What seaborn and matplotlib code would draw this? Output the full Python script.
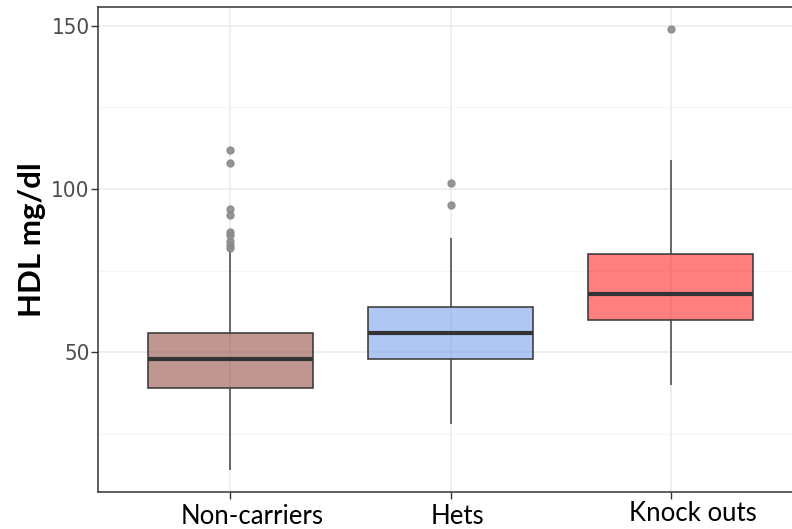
import matplotlib
matplotlib.use("Agg")
import matplotlib.pyplot as plt
import matplotlib.transforms as mtransforms
from matplotlib.colors import to_rgba
from matplotlib.ticker import MultipleLocator
from matplotlib import font_manager
import numpy as np
import pandas as pd
import seaborn as sns

# ── data ──────────────────────────────────────────────────────────────────────
groups = ["Non-carriers", "Hets", "Knock outs"]

non_carriers = [14, 22, 27, 30, 32, 34, 35, 36, 37, 38,
                39, 40, 41, 42, 43, 44, 45, 46, 47, 47,
                48, 49, 50, 51, 52, 52, 53, 54, 55, 55,
                56, 81, 82, 83, 84, 86, 87, 92, 94, 108, 112]
hets = [28, 36, 41, 44, 46, 48, 50, 52, 54, 55, 56,
        58, 60, 61, 63, 64, 68, 74, 85, 95, 102]
knock_outs = [40, 50, 56, 60, 63, 66, 68, 72, 76, 80, 92, 109, 149]

y_ticks = [50, 100, 150]
box_colors = ["#813123", "#6391e9", "#ff0101"]

df = pd.DataFrame({
    "group": (["Non-carriers"] * len(non_carriers) + ["Hets"] * len(hets)
              + ["Knock outs"] * len(knock_outs)),
    "hdl": non_carriers + hets + knock_outs,
})

sns.set_theme(style="whitegrid")
plt.rcParams["font.family"] = ["Lato", "DejaVu Sans"]

names = {f.name for f in font_manager.fontManager.ttflist}
narrow = "Liberation Sans Narrow" if "Liberation Sans Narrow" in names else "DejaVu Sans"

fig = plt.figure(figsize=(7.92, 5.29), dpi=100)
ax = fig.add_axes([98 / 792, 37 / 529, 705 / 792, 485 / 529])

sns.boxplot(data=df, x="group", y="hdl", hue="group", order=groups,
            palette=dict(zip(groups, box_colors)), legend=False,
            width=0.75, linecolor="#333333", linewidth=1.1,
            fliersize=5, ax=ax,
            flierprops=dict(marker="o", markerfacecolor="#8a8a8a",
                            markeredgecolor="#8a8a8a", alpha=0.9),
            medianprops=dict(linewidth=3, color="#333333"),
            whiskerprops=dict(color="#444444"), capprops=dict(linewidth=0))

for patch, c in zip(ax.patches, box_colors):
    patch.set_facecolor(to_rgba(c, 0.5))

ax.set_xlim(-0.6, 2.6)
ax.set_ylim(7.25, 155.75)
ax.set_yticks(y_ticks, [str(t) for t in y_ticks], fontfamily=narrow,
              fontstretch="condensed", fontsize=16, color="#4d4d4d")
ax.yaxis.set_minor_locator(MultipleLocator(25))
ax.set_facecolor("white")
ax.grid(True, which="major", color="#ebebeb", linewidth=1.1)
ax.grid(True, which="minor", axis="y", color="#f2f2f2", linewidth=0.6)
ax.set_axisbelow(True)

for side in ["left", "bottom", "top", "right"]:
    ax.spines[side].set_visible(True)
    ax.spines[side].set_color("#333333")
    ax.spines[side].set_linewidth(1.1)

ax.tick_params(axis="both", which="major", length=5, width=1, color="#333333",
               bottom=True, left=True)
ax.tick_params(axis="y", which="minor", length=0)
ax.tick_params(axis="y", pad=1)
ax.tick_params(axis="x", labelsize=18.5, labelcolor="black", pad=3.5)

# the category labels sit a little right of their ticks in the reference
offsets = [(22, 0), (7, 0), (22, 3)]
for lab, (dx, dy) in zip(ax.get_xticklabels(), offsets):
    lab.set_transform(lab.get_transform() + mtransforms.ScaledTranslation(
        dx / 100, dy / 100, fig.dpi_scale_trans))

ax.set_xlabel("")
ax.set_ylabel("HDL mg/dl", fontsize=22.5, fontweight="bold", color="black")
ax.yaxis.set_label_coords(-0.074, 0.52)

fig.savefig("out.png", dpi=100)
